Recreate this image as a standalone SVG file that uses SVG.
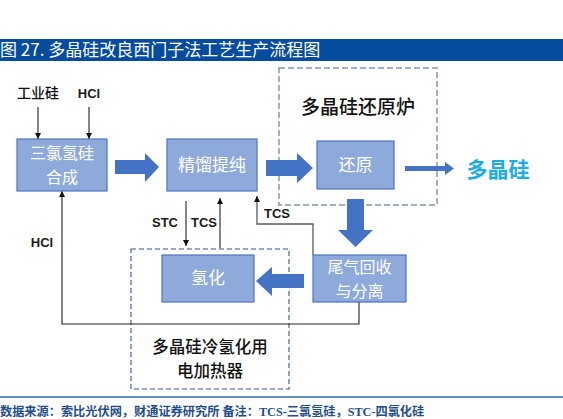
<svg xmlns="http://www.w3.org/2000/svg" width="563" height="419" viewBox="0 0 563 419">
<defs>
<style>
.box{fill:#8eaadb;stroke:#4f74bd;stroke-width:1.2}
.bt{font-family:"Noto Sans CJK SC","Noto Sans",sans-serif;font-size:17px;fill:#ffffff;text-anchor:middle}
.bt2{font-family:"Noto Sans CJK SC","Noto Sans",sans-serif;font-size:16px;fill:#ffffff;text-anchor:middle}
.lbl{font-family:"Liberation Sans","Noto Sans CJK SC",sans-serif;font-size:13px;font-weight:bold;fill:#1a1a1a;text-anchor:middle}
.cjk{font-family:"Noto Sans CJK SC",sans-serif;fill:#111;text-anchor:middle;font-weight:500}
.blk{fill:#4472c4}
.ln{fill:none;stroke:#222;stroke-width:1.1}
.gl{fill:none;stroke:#595959;stroke-width:1.3}
</style>
<marker id="ah" viewBox="0 0 10 10" refX="10" refY="5" markerWidth="6" markerHeight="7" markerUnits="userSpaceOnUse" orient="auto">
<path d="M0,0 L10,5 L0,10 z" fill="#111"/>
</marker>
</defs>
<rect width="563" height="419" fill="#ffffff"/>
<g id="title">
<rect x="0" y="39" width="563" height="22" fill="#064c9e"/>
<text x="0" y="56" font-family="Noto Sans CJK SC,sans-serif" font-size="17" fill="#ffffff">图 27. 多晶硅改良西门子法工艺生产流程图</text>
</g>
<g id="furnace-group">
<rect x="279" y="68" width="158" height="137" fill="none" stroke="#8497b0" stroke-width="1.5" stroke-dasharray="6,3"/>
<text class="cjk" x="358" y="114" font-size="19">多晶硅还原炉</text>
</g>
<g id="heater-group">
<rect x="131" y="249" width="158" height="140" fill="none" stroke="#2f5597" stroke-width="1.1" stroke-dasharray="5,3"/>
<text class="cjk" x="210" y="353" font-size="16.5">多晶硅冷氢化用</text>
<text class="cjk" x="210" y="377" font-size="16.5">电加热器</text>
</g>
<g id="connectors">
<line class="ln" x1="38" y1="107" x2="38" y2="139" marker-end="url(#ah)"/>
<line class="ln" x1="89" y1="107" x2="89" y2="139" marker-end="url(#ah)"/>
<line class="ln" x1="186" y1="201" x2="186" y2="246" marker-end="url(#ah)"/>
<line class="ln" x1="220" y1="248" x2="220" y2="198" marker-end="url(#ah)"/>
<polyline class="gl" points="313,255 313,224 257,224 257,196" marker-end="url(#ah)"/>
<polyline class="ln" points="359,302 359,324 62,324 62,191" marker-end="url(#ah)"/>
<polygon class="blk" points="115,160 145,160 145,153 159,167 145,182 145,174 115,174"/>
<polygon class="blk" points="266,160 297,160 297,153 313,168 297,183 297,176 266,176"/>
<polygon class="blk" points="405,166 445,166 445,162 454,168.5 445,175 445,171 405,171"/>
<polygon class="blk" points="347,199 364,199 364,230 373,230 355.5,247 338,230 347,230"/>
<polygon class="blk" points="304,274 272,274 272,267 256,281 272,296 272,288 304,288"/>
<text class="lbl" x="165" y="227">STC</text>
<text class="lbl" x="204" y="227">TCS</text>
<text class="lbl" x="277" y="218">TCS</text>
<text class="lbl" x="42" y="247">HCl</text>
</g>
<g id="inputs">
<text class="cjk" x="38" y="98" font-size="14">工业硅</text>
<text class="lbl" x="89" y="98" font-size="14">HCl</text>
</g>
<g id="n-synthesis">
<rect class="box" x="17" y="139" width="90" height="52"/>
<text class="bt2" x="62" y="159">三氯氢硅</text>
<text class="bt2" x="62" y="183">合成</text>
</g>
<g id="n-distill">
<rect class="box" x="167" y="139" width="90" height="52"/>
<text class="bt" x="212" y="171">精馏提纯</text>
</g>
<g id="n-reduce">
<rect class="box" x="317" y="141" width="77" height="48"/>
<text class="bt" x="355.5" y="171">还原</text>
</g>
<g id="n-tailgas">
<rect class="box" x="313" y="255" width="93" height="47"/>
<text class="bt2" x="359.5" y="273">尾气回收</text>
<text class="bt2" x="359.5" y="297">与分离</text>
</g>
<g id="n-hydro">
<rect class="box" x="162" y="255" width="92" height="47"/>
<text class="bt" x="208" y="284">氢化</text>
</g>
<g id="n-output">
<text x="498" y="177" font-family="Noto Sans CJK SC,sans-serif" font-size="21" font-weight="bold" fill="#1cace6" text-anchor="middle">多晶硅</text>
</g>
<g id="footer">
<line x1="0" y1="397" x2="563" y2="397" stroke="#2e6db4" stroke-width="1.3"/>
<text x="0" y="416" font-family="Liberation Serif,Noto Sans CJK SC,serif" font-size="12.2" font-weight="bold" fill="#1f4e8c">数据来源：索比光伏网，财通证券研究所 备注：TCS-三氯氢硅，STC-四氯化硅</text>
</g>
</svg>
